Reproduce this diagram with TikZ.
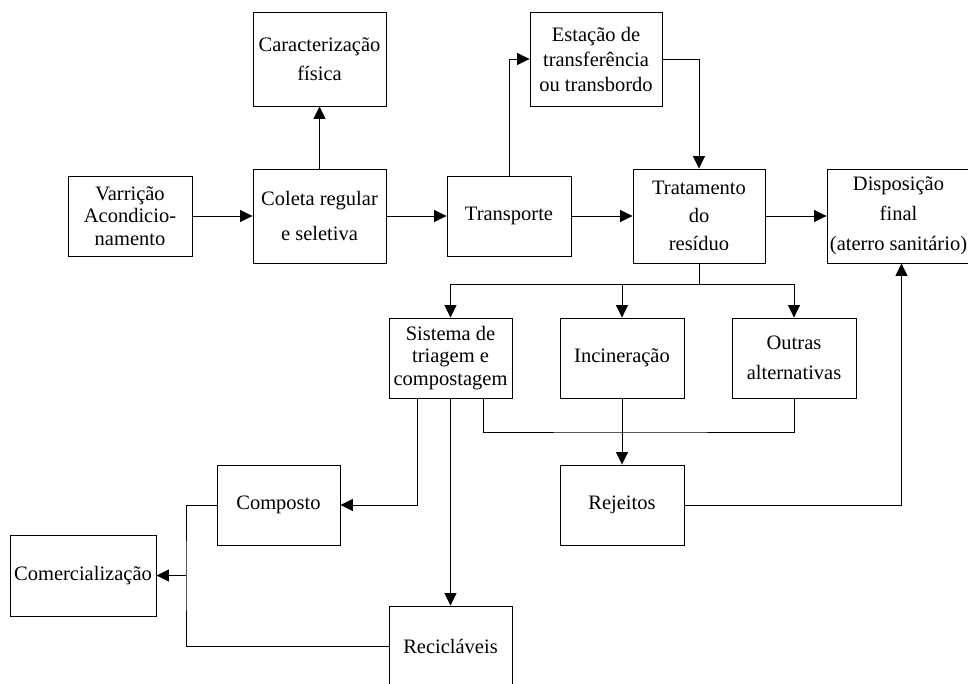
\documentclass[tikz,border=0pt]{standalone}
\usepackage{fontspec}
\setmainfont{Liberation Serif}
\usetikzlibrary{arrows.meta}
\begin{document}
\begin{tikzpicture}[x=1pt,y=-1pt,
  box/.style={draw, line width=0.9pt, inner sep=0pt, align=center,
    font=\rmfamily\fontsize{20.5}{22.5}\selectfont},
  link/.style={line width=0.9pt},
  flow/.style={link, -{Triangle[length=12.5pt,width=12pt]}}]
\useasboundingbox (0,0) rectangle (968,684);

% process boxes
\node[box, minimum width=124pt, minimum height=80pt] (var) at (130,216) {Varrição\\Acondicio-\\namento};
\node[box, minimum width=133pt, minimum height=94pt] (col) at (319.5,216) {Coleta regular\\[12.5pt]e seletiva};
\node[box, minimum width=133pt, minimum height=94pt] (car) at (319.5,59) {Caracterização\\[6.5pt]física};
\node[box, minimum width=124pt, minimum height=80pt] (tra) at (509,216) {Transporte};
\node[box, minimum width=132pt, minimum height=94pt] (est) at (596,59) {Estação de\\[2.5pt]transferência\\[2.5pt]ou transbordo};
\node[box, minimum width=132pt, minimum height=94pt] (trat) at (699,216) {Tratamento\\[5.5pt]do\\[5.5pt]resíduo};
\node[box, minimum width=143pt, minimum height=94pt] (dis) at (898.5,216) {Disposição\\[7.5pt]final\\[7.5pt](aterro sanitário)};
\node[box, minimum width=123pt, minimum height=80pt] (sis) at (450.5,358) {Sistema de\\triagem e\\compostagem};
\node[box, minimum width=124pt, minimum height=80pt] (inc) at (622,358) {Incineração};
\node[box, minimum width=124pt, minimum height=80pt] (out) at (794,358) {Outras\\[7.5pt]alternativas};
\node[box, minimum width=124pt, minimum height=80pt] (rej) at (622,505) {Rejeitos};
\node[box, minimum width=123pt, minimum height=80pt] (comp) at (278.5,505) {Composto};
\node[box, minimum width=146pt, minimum height=81pt] (com) at (83,575.5) {Comercialização};
\node[box, minimum width=123pt, minimum height=80pt] (rec) at (450.5,646) {Recicláveis};

% junction points
\coordinate (split) at (699,284);
\coordinate (join) at (622,432);
\coordinate (bus) at (186,575.5);

% upper chain
\draw[flow] (var) -- (col);
\draw[flow] (col) -- (car);
\draw[flow] (col) -- (tra);
\draw[flow] (tra.north) |- (est.west);
\draw[flow] (est.east) -| (trat.north);
\draw[flow] (tra) -- (trat);
\draw[flow] (trat) -- (dis);

% treatment branches
\draw[link] (trat.south) -- (split);
\draw[flow] (split) -| (sis.north);
\draw[flow] (split) -| (inc.north);
\draw[flow] (split) -| (out.north);

% outputs of the sorting system
\draw[flow] ([xshift=-33.5pt]sis.south) |- (comp.east);
\draw[flow] (sis.south) -- (rec.north);
\draw[link] ([xshift=32.5pt]sis.south) |- (join) -| (out.south);
\draw[flow] (inc.south) -- (rej.north);
\draw[flow] (rej.east) -| ([xshift=3pt]dis.south);

% marketing of products
\draw[link] (comp.west) -| (bus) |- (rec.west);
\draw[flow] (bus) -- (com.east);
\end{tikzpicture}
\end{document}
